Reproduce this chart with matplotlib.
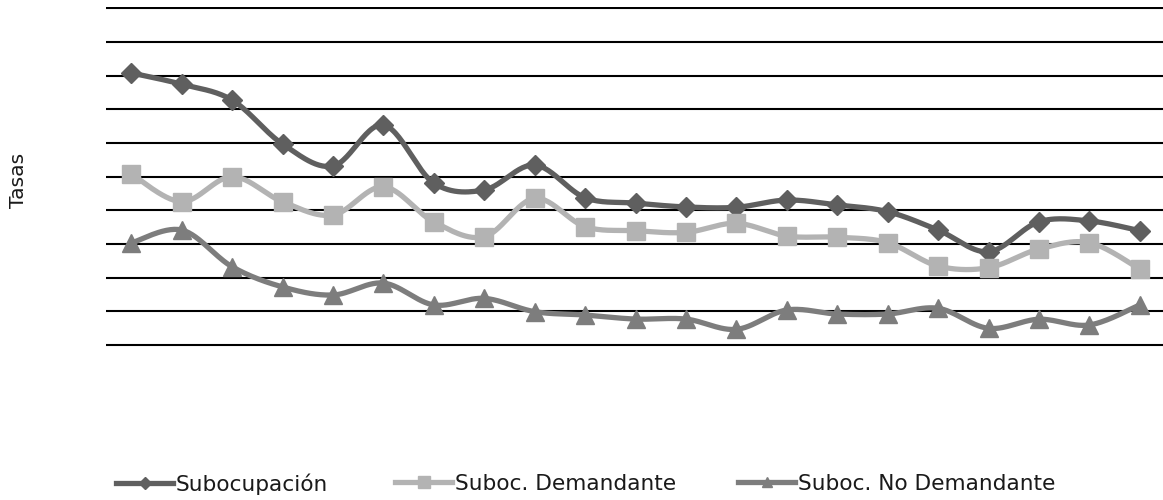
import numpy as np
import matplotlib
matplotlib.use("Agg")
import matplotlib.pyplot as plt
from matplotlib.lines import Line2D

# ---------------- data ----------------
periods = list(range(21))
subocupacion = [16.16, 15.49, 14.55, 11.94, 10.63, 13.07, 9.62, 9.21, 10.69, 8.75,
                8.43, 8.20, 8.18, 8.61, 8.32, 7.92, 6.83, 5.54, 7.32, 7.37, 6.79]
demandante = [10.16, 8.51, 10.00, 8.51, 7.72, 9.40, 7.31, 6.43, 8.71, 7.03,
              6.79, 6.69, 7.23, 6.47, 6.40, 6.08, 4.69, 4.59, 5.70, 6.08, 4.51]
no_demandante = [6.06, 6.83, 4.65, 3.45, 2.97, 3.68, 2.38, 2.77, 1.98, 1.78,
                 1.54, 1.54, 0.93, 2.08, 1.84, 1.84, 2.18, 0.99, 1.53, 1.19, 2.38]
labels = ["Subocupación", "Suboc. Demandante", "Suboc. No Demandante"]
grid_values = list(range(0, 21, 2))

colors = ["#5f5f5f", "#b3b3b3", "#7d7d7d"]
markers = ["D", "s", "^"]
msizes = [10, 13, 13]
leg_msizes = [6, 8, 7]
FONT = "DejaVu Sans"


def smooth(x, y, n=30):
    x = np.asarray(x, float)
    y = np.asarray(y, float)
    P = np.column_stack([x, y])
    Pe = np.vstack([P[0], P, P[-1]])
    out = []
    t = np.linspace(0, 1, n)[:, None]
    for i in range(len(P) - 1):
        p0 = Pe[i + 1]
        p3 = Pe[i + 2]
        c1 = p0 + (Pe[i + 2] - Pe[i]) / 6.0
        c2 = p3 - (Pe[i + 3] - Pe[i + 1]) / 6.0
        seg = ((1 - t) ** 3) * p0 + 3 * ((1 - t) ** 2) * t * c1 + 3 * (1 - t) * t ** 2 * c2 + t ** 3 * p3
        out.append(seg if i == 0 else seg[1:])
    out = np.vstack(out)
    return out[:, 0], out[:, 1]


W, H = 1163, 500
fig = plt.figure(figsize=(W / 100, H / 100), dpi=100)
renderer = fig.canvas.get_renderer()


def fit_size(text, target_px, base=12):
    t = fig.text(0, 0, text, fontsize=base, family=FONT)
    w = t.get_window_extent(renderer).width
    t.remove()
    return base * target_px / w


ymin, ymax = -0.1, 20.1
y0_px, y20_px = 345.0, 8.3
unit = (y0_px - y20_px) / 20.0
bottom_px = y0_px + 0.1 * unit
top_px = y20_px - 0.1 * unit
left_px, right_px = 106.0, 1165.0
ax = fig.add_axes([left_px / W, 1 - bottom_px / H, (right_px - left_px) / W, (bottom_px - top_px) / H])
ax.set_xlim(-0.5, 20.5)
ax.set_ylim(ymin, ymax)

for v in grid_values:
    ax.axhline(v, color="black", lw=1.5, zorder=1)

series = [subocupacion, demandante, no_demandante]
for vals, c, m, ms in zip(series, colors, markers, msizes):
    sx, sy = smooth(periods, vals)
    ax.plot(sx, sy, color=c, lw=3.8, zorder=3, solid_capstyle="round")
    ax.plot(periods, vals, ls="none", marker=m, ms=ms, color=c, mec=c, zorder=4)

for s in ax.spines.values():
    s.set_visible(False)
ax.set_xticks([])
ax.set_yticks([])

tasas_size = fit_size("Tasas", 55)
fig.text(19 / W, 1 - 180 / H, "Tasas", rotation=90, ha="center", va="center",
         fontsize=tasas_size, family=FONT, color="#1a1a1a")

leg_size = fit_size("Subocupación", 151)
leg_x = [116, 395, 738]
for lab, c, m, ms, lx in zip(labels, colors, markers, leg_msizes, leg_x):
    h = Line2D([0], [0], color=c, lw=3.8, marker=m, ms=ms, mec=c, mfc=c)
    px_per_fs = leg_size * 100 / 72
    lg = fig.legend([h], [lab], loc="center left", bbox_to_anchor=(lx / W, 1 - 484 / H),
                    frameon=False, handlelength=57 / px_per_fs, handletextpad=3 / px_per_fs,
                    borderpad=0, borderaxespad=0, prop={"family": FONT, "size": leg_size})
    for t in lg.get_texts():
        t.set_color("#1a1a1a")

fig.savefig("out.png", dpi=100)
